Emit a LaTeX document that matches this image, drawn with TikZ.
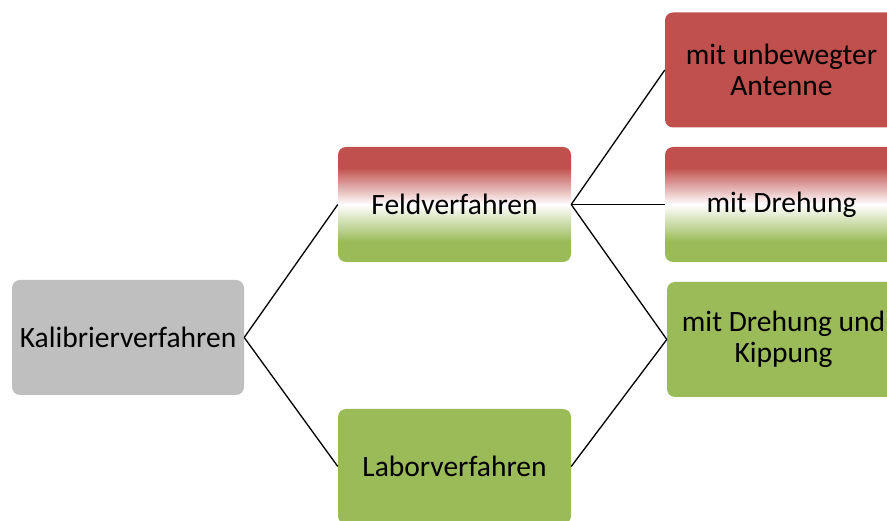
\documentclass[tikz,border=0pt]{standalone}
\usepackage{fontspec}
\setmainfont{Carlito}
\usepackage{tikz}
\usetikzlibrary{positioning}

\definecolor{boxred}{HTML}{C0504D}
\definecolor{boxgreen}{HTML}{9BBB59}
\definecolor{boxgray}{HTML}{BFBFBF}

% rot oben, weiss in der Mitte, gruen unten
\pgfdeclareverticalshading{rotweissgruen}{100bp}{color(0bp)=(boxgreen); color(34bp)=(boxgreen); color(50bp)=(white); color(66bp)=(boxred); color(100bp)=(boxred)}

\begin{document}
\begin{tikzpicture}[
		x=1pt, y=-1pt
		,every node/.style={rounded corners=8pt, minimum width=233pt, minimum height=115pt, align=center, inner sep=0pt, font=\fontsize{29.5}{31}\selectfont}
		,grau/.style={fill=boxgray}
		,rot/.style={fill=boxred}
		,gruen/.style={fill=boxgreen}
		,mischung/.style={shading=rotweissgruen}
		,linie/.style={line width=1.3pt}
	]
		\useasboundingbox (0,0) rectangle (887,521);
		\clip (0,0) rectangle (887,521);

		\node[grau, minimum width=232pt] (K) at (128,337.5) {Kalibrierverfahren};
		\node[mischung] (F) at (454.5,204.5) {Feldverfahren};
		\node[gruen] (L) at (454.5,466.5) {Laborverfahren};
		\node[rot] (U) at (781.5,70) {mit unbewegter\\Antenne};
		\node[mischung] (D) at (781.5,204.5) {mit Drehung};
		\node[gruen] (DK) at (783.5,339.5) {mit Drehung und\\Kippung};

		\draw[linie] (K.east) -- (F.west);
		\draw[linie] (K.east) -- (L.west);
		\draw[linie] (F.east) -- (U.west);
		\draw[linie] (F.east) -- (D.west);
		\draw[linie] (F.east) -- (DK.west);
		\draw[linie] (L.east) -- (DK.west);
	\end{tikzpicture}
\end{document}
